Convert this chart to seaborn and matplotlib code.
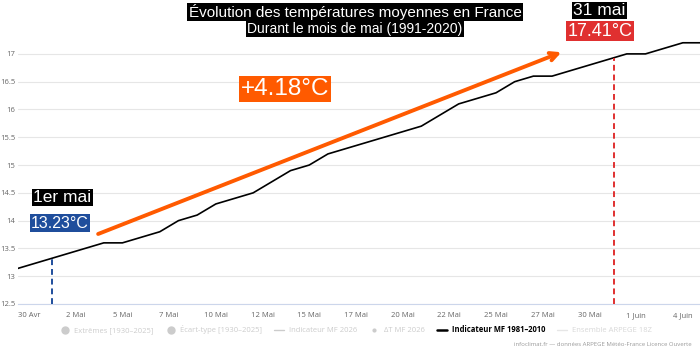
import numpy as np
import pandas as pd
import seaborn as sns
import matplotlib
matplotlib.use("Agg")
import matplotlib.pyplot as plt
from matplotlib.lines import Line2D

# ---- data (days counted from 30 Avr = 0) ----
days = list(range(-1, 37))
temps = [13.1, 13.2, 13.3, 13.4, 13.5, 13.6, 13.6, 13.7, 13.8, 14.0, 14.1,
         14.3, 14.4, 14.5, 14.7, 14.9, 15.0, 15.2, 15.3, 15.4, 15.5, 15.6,
         15.7, 15.9, 16.1, 16.2, 16.3, 16.5, 16.6, 16.6, 16.7, 16.8, 16.9,
         17.0, 17.0, 17.1, 17.2, 17.2]
tick_pos = [0, 2.5, 5, 7.5, 10, 12.5, 15, 17.5, 20, 22.5, 25, 27.5, 30, 32.5, 35]
tick_labels = ["30 Avr", "2 Mai", "5 Mai", "7 Mai", "10 Mai", "12 Mai", "15 Mai",
               "17 Mai", "20 Mai", "22 Mai", "25 Mai", "27 Mai", "30 Mai",
               "1 Juin", "4 Juin"]
y_ticks = [12.5, 13, 13.5, 14, 14.5, 15, 15.5, 16, 16.5, 17]
start_day, end_day = 1.25, 31.3
arrow_start = (3.7, 13.76)
arrow_end = (28.5, 17.03)
legend_labels = ["Extrêmes [1930–2025]", "Écart-type [1930–2025]",
                 "Indicateur MF 2026", "ΔT MF 2026",
                 "Indicateur MF 1981–2010", "Ensemble ARPEGE 18Z"]

df = pd.DataFrame({"day": days, "temp": temps})

sns.set_theme(style="white")
plt.rcParams["font.family"] = ["Liberation Sans", "DejaVu Sans"]

fig = plt.figure(figsize=(7, 3.5), dpi=100)
ax = fig.add_axes([18 / 700, 1 - 304 / 350, 1 - 18 / 700, (304 - 40) / 350])

sns.lineplot(data=df, x="day", y="temp", ax=ax, color="black", linewidth=1.2)
ax.set_xlim(-0.59, 35.92)
ax.set_ylim(12.5, 17.25)
ax.set_yticks(y_ticks)
ax.set_yticklabels([f"{v:g}" for v in y_ticks], fontsize=5.5, color="#666666",
                   family=["Open Sans", "DejaVu Sans"])
ax.set_xticks(tick_pos)
ax.set_xticklabels(tick_labels, fontsize=5.5, color="#666666",
                   family=["Open Sans", "DejaVu Sans"])
ax.tick_params(axis="x", length=4, width=0.8, color="#ccd6eb", pad=2, direction="out")
ax.tick_params(axis="y", length=0, pad=2)
ax.grid(axis="y", color="#e6e6e6", linewidth=0.8)
ax.grid(axis="x", visible=False)
for s in ["top", "right", "left"]:
    ax.spines[s].set_visible(False)
ax.spines["bottom"].set_color("#ccd6eb")
ax.spines["bottom"].set_linewidth(0.8)
ax.set_xlabel("")
ax.set_ylabel("")

# dashed markers
y_start = np.interp(start_day, days, temps)
y_end = np.interp(end_day, days, temps)
ax.plot([start_day, start_day], [12.5, y_start], color="#1f4e9c", lw=1.4,
        ls=(0, (3, 2)), zorder=3)
ax.plot([end_day, end_day], [12.5, y_end], color="#e03030", lw=1.4,
        ls=(0, (3, 2)), zorder=3)

# arrow
ax.annotate("", xy=arrow_end, xytext=arrow_start,
            arrowprops=dict(arrowstyle="->", color="#ff5a00", lw=2.8,
                            mutation_scale=14, shrinkA=0, shrinkB=0))

def box(x, y, s, fc, size, ha="center"):
    fig.text(x / 700, 1 - y / 350, s, ha=ha, va="center", color="white",
             fontsize=size,
             bbox=dict(boxstyle="square,pad=0.08", fc=fc, ec="none"))

box(355, 12, "Évolution des températures moyennes en France", "black", 11)
box(355, 28.5, "Durant le mois de mai (1991-2020)", "black", 10)
box(285, 89, "+4.18°C", "#ff5a00", 17.5)
box(62.5, 197.5, "1er mai", "black", 12.5)
box(60, 223, "13.23°C", "#1f4e9c", 11.5)
box(599.5, 10.5, "31 mai", "black", 12.5)
box(600, 31, "17.41°C", "#e03030", 13)

# legend
light = "#cccccc"
handles = [
    Line2D([], [], marker="o", ls="none", color=light, markersize=5),
    Line2D([], [], marker="o", ls="none", color=light, markersize=5),
    Line2D([], [], color=light, lw=1),
    Line2D([], [], marker="o", ls="none", color=light, markersize=2),
    Line2D([], [], color="black", lw=1.8),
    Line2D([], [], color="#e6e6e6", lw=1),
]
leg = fig.legend(handles, legend_labels, loc="center", bbox_to_anchor=(0.508, 1 - 330 / 350),
                 ncol=6, frameon=False, handlelength=1.3,
                 handletextpad=0.6, columnspacing=1.6,
                 prop={"family": ["Open Sans", "DejaVu Sans"], "size": 5.5})
colors = [light, light, light, light, "black", "#d8d8d8"]
for t, c in zip(leg.get_texts(), colors):
    t.set_color(c)
leg.get_texts()[4].set_fontweight("bold")

fig.text(692 / 700, 1 - 344 / 350, "infoclimat.fr — données ARPEGE Météo-France Licence Ouverte",
         ha="right", va="center", fontsize=4.3, color="#999999",
         family=["Open Sans", "DejaVu Sans"])

fig.savefig("out.png", dpi=100)
